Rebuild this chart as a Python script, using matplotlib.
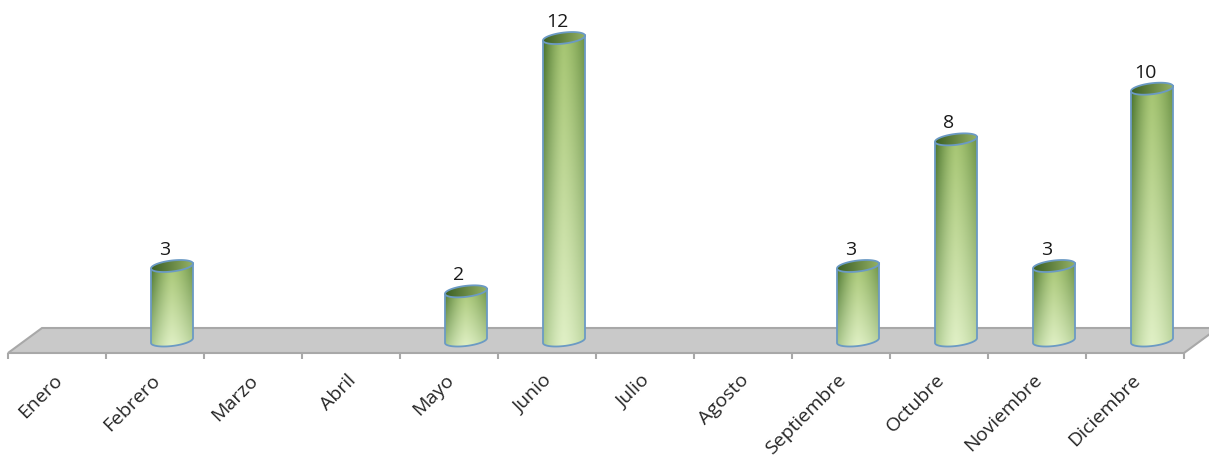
"""Monthly counts drawn as shaded cylinders on a grey floor."""

import matplotlib

matplotlib.use("Agg")
import matplotlib.pyplot as plt
import numpy as np
from matplotlib.patches import PathPatch, Polygon
from matplotlib.path import Path
from matplotlib.transforms import ScaledTranslation

months = [
    "Enero", "Febrero", "Marzo", "Abril", "Mayo", "Junio", "Julio",
    "Agosto", "Septiembre", "Octubre", "Noviembre", "Diciembre",
]
values = [0, 3, 0, 0, 2, 12, 0, 0, 3, 8, 3, 10]

W, H = 1209, 457
CAT_PX = 98.0  # pixels per category
UNIT_PX = 25.33  # pixels per count
X0_PX = 74.0  # pixel x of the first category
Y0_PX = 342.0  # pixel y of value zero
FRONT_PX = 353.0  # pixel y of the floor's front edge
BACK_PX = 328.0  # pixel y of the floor's back edge

EDGE = "#6b9ac4"
LEFT_TOP = np.array([70, 112, 42]) / 255
RIGHT_TOP = np.array([108, 146, 70]) / 255
MID_TOP = np.array([164, 196, 112]) / 255
LEFT_BOT = np.array([170, 200, 140]) / 255
RIGHT_BOT = np.array([190, 214, 160]) / 255
MID_BOT = np.array([224, 240, 198]) / 255


def cylinder_image():
    """Gradient for one cylinder: dark at the sides, pale towards the base."""
    s = np.linspace(-1, 1, 60)
    u = (np.abs(s) ** 1.5)[None, :, None]
    is_left = (s < 0)[None, :, None]
    top = MID_TOP * (1 - u) + np.where(is_left, LEFT_TOP, RIGHT_TOP) * u
    bot = MID_BOT * (1 - u) + np.where(is_left, LEFT_BOT, RIGHT_BOT) * u
    v = np.linspace(0, 1, 80)[:, None, None]
    return top * (1 - v) + bot * v


def ring(cx, cy, half_w, half_h, tilt, t):
    return np.column_stack(
        [
            cx + half_w * np.cos(t),
            cy + half_h * np.sin(t) + tilt * np.cos(t),
        ]
    )


def draw_cylinder(ax, i, value):
    half_w = 21 / CAT_PX
    half_h = 5.5 / UNIT_PX
    tilt = 2.4 / UNIT_PX
    base_y = 1.5 / UNIT_PX

    # body: top edge, then round the lower half of the base ellipse
    t_low = np.linspace(np.pi, 2 * np.pi, 50)
    base = ring(i, base_y, half_w, half_h, tilt, t_low)
    top_l = ring(i, value, half_w, half_h, tilt, np.array([np.pi]))
    top_r = ring(i, value, half_w, half_h, tilt, np.array([0.0]))
    body_pts = np.vstack([top_l, base, top_r, top_l])
    body = PathPatch(Path(body_pts), fc="none", ec=EDGE, lw=1.3, zorder=4)
    ax.add_patch(body)

    im = ax.imshow(
        cylinder_image(),
        extent=(i - half_w, i + half_w, base_y - half_h - tilt, value + half_h),
        aspect="auto",
        origin="upper",
        zorder=3,
    )
    im.set_clip_path(PathPatch(Path(body_pts), transform=ax.transData))

    # top cap
    t_all = np.linspace(0, 2 * np.pi, 80)
    cap_pts = ring(i, value, half_w, half_h, tilt, t_all)
    cap_img = np.linspace(LEFT_TOP * 0.85, MID_TOP * 0.9, 40)[None, :, :]
    cap = ax.imshow(
        cap_img,
        extent=(i - half_w, i + half_w, value - half_h - tilt, value + half_h + tilt),
        aspect="auto",
        zorder=5,
    )
    cap.set_clip_path(PathPatch(Path(cap_pts), transform=ax.transData))
    ax.plot(cap_pts[:, 0], cap_pts[:, 1], color=EDGE, lw=1.3, zorder=6)

    ax.annotate(
        str(value),
        (i, value),
        xytext=(-5, 8),
        textcoords="offset points",
        ha="center",
        va="baseline",
        fontsize=14,
        color="#1a1a1a",
        zorder=7,
    )


def main():
    plt.rcParams["font.family"] = ["Open Sans", "DejaVu Sans"]
    fig = plt.figure(figsize=(W / 100, H / 100), dpi=100)
    ax = fig.add_axes([0, 1 - FRONT_PX / H, 1, FRONT_PX / H])
    ax.patch.set_visible(False)

    xlim = (-X0_PX / CAT_PX, (W - X0_PX) / CAT_PX)
    ylim = ((Y0_PX - FRONT_PX) / UNIT_PX, Y0_PX / UNIT_PX)

    # floor
    left_front = (8 - X0_PX) / CAT_PX
    right_front = left_front + len(months)
    depth_x = 34 / CAT_PX
    back_y = (Y0_PX - BACK_PX) / UNIT_PX
    floor = Polygon(
        [
            (left_front, ylim[0]),
            (left_front + depth_x, back_y),
            (right_front + depth_x, back_y),
            (right_front, ylim[0]),
        ],
        closed=True,
        fc="#c9c9c9",
        ec="#a8a8a8",
        lw=1.5,
        zorder=1,
        clip_on=False,
    )
    ax.add_patch(floor)

    for i, value in enumerate(values):
        if value > 0:
            draw_cylinder(ax, i, value)

    ax.set_xlim(xlim)
    ax.set_ylim(ylim)

    for side in ax.spines.values():
        side.set_visible(False)
    ax.set_yticks([])
    ax.set_xticks(range(len(months)), months)
    ax.set_xticks(left_front + np.arange(len(months) + 1), minor=True)
    ax.tick_params(axis="x", which="major", length=0, pad=13, labelsize=14, colors="#262626")
    ax.tick_params(axis="x", which="minor", length=4.5, width=1.5, color="#a8a8a8")
    shift = ScaledTranslation(-15 / 72, 0, fig.dpi_scale_trans)
    for label in ax.get_xticklabels():
        label.set_rotation(45)
        label.set_ha("right")
        label.set_rotation_mode("anchor")
        label.set_transform(label.get_transform() + shift)

    fig.savefig("out.png", dpi=100)


if __name__ == "__main__":
    main()
